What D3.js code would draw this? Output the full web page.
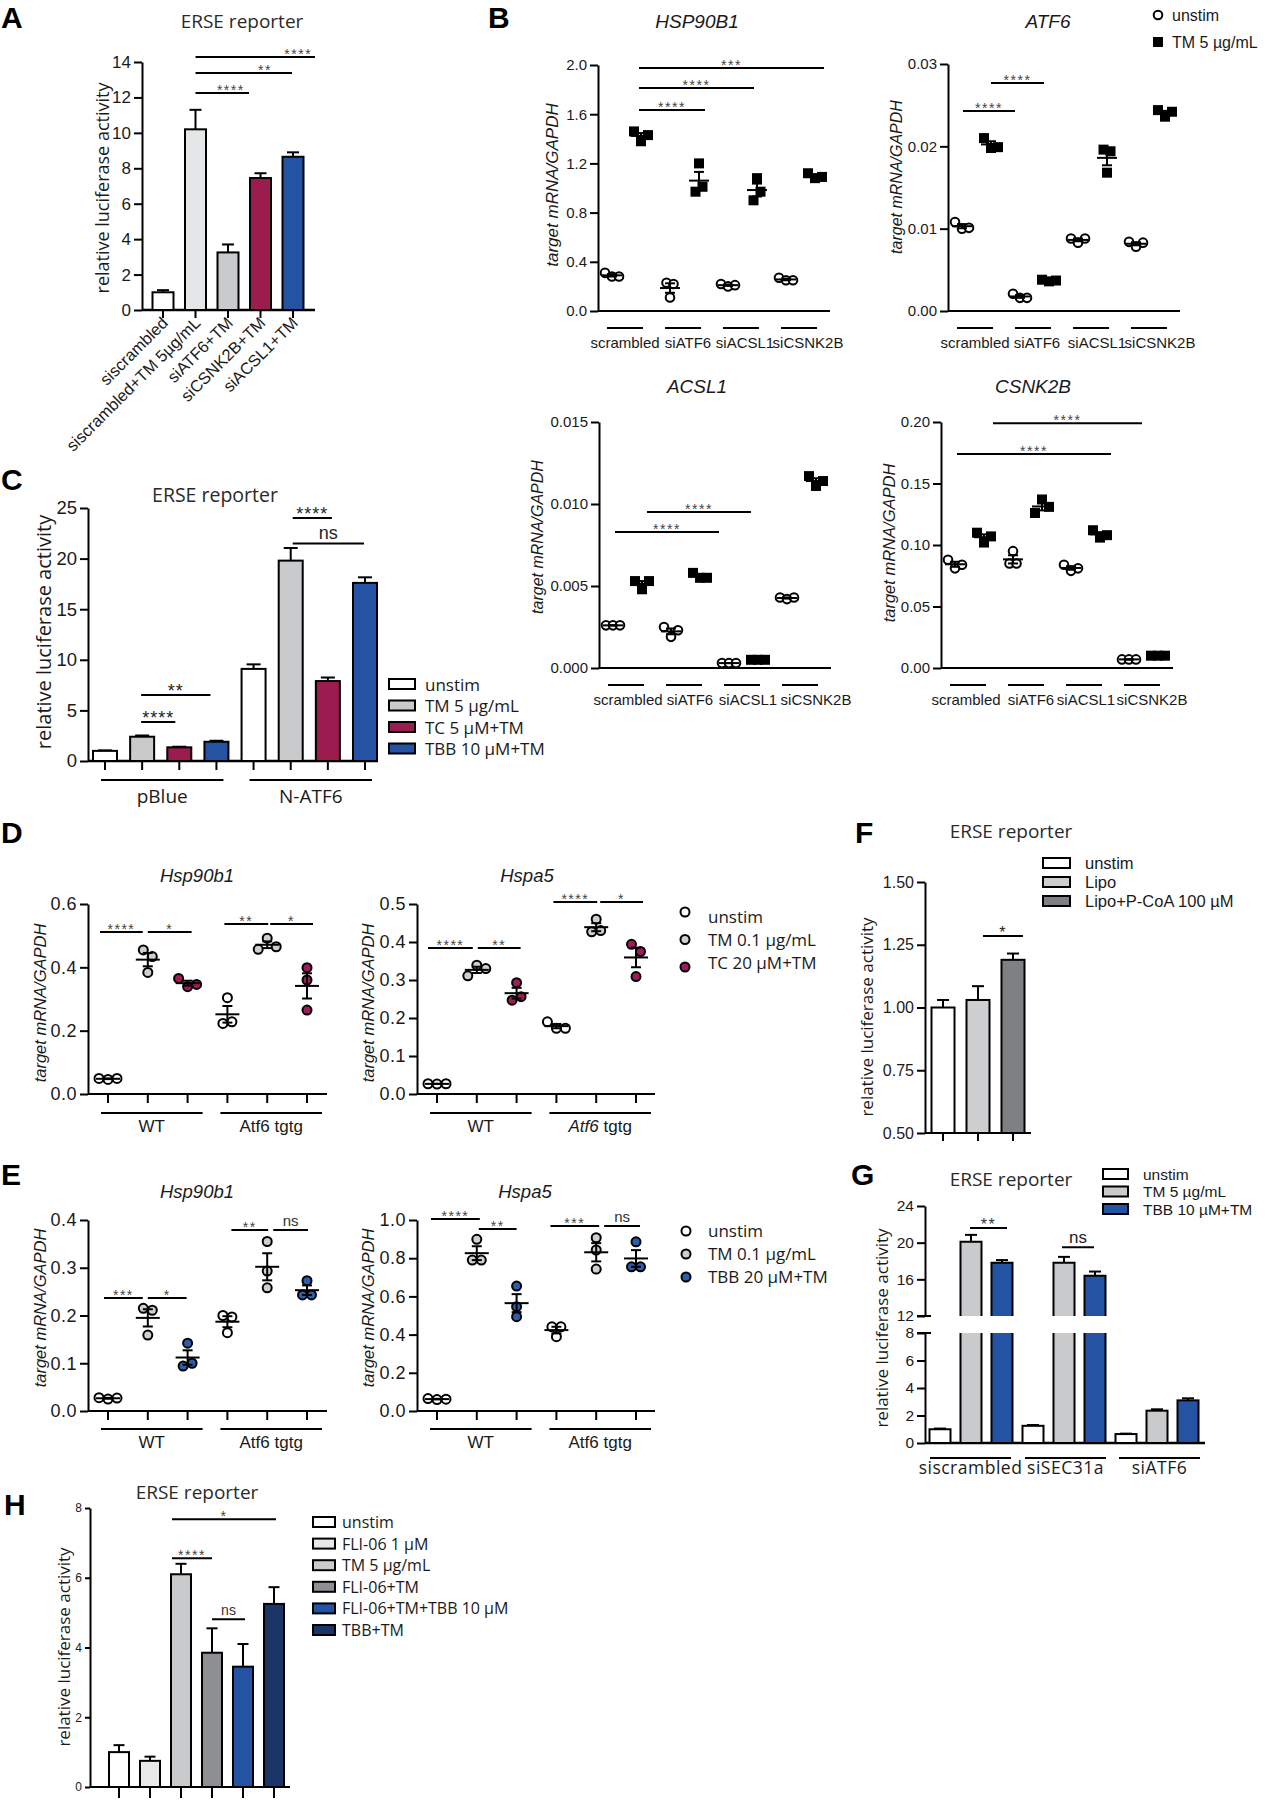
<!DOCTYPE html>
<html>
<head>
<meta charset="utf-8">
<script src="https://cdn.jsdelivr.net/npm/d3@7"></script>
<style>
html,body{margin:0;padding:0;background:#fff;}
svg{display:block;}
</style>
</head>
<body>
<script>
// ===================== DATA =====================
// Panel A – ERSE reporter
const aCategories = ["siscrambled", "siscrambled+TM 5µg/mL", "siATF6+TM", "siCSNK2B+TM", "siACSL1+TM"];
const aValues = [1.0, 10.2, 3.25, 7.45, 8.65];
const aErrors = [0.12, 1.1, 0.45, 0.27, 0.25];
const aTicks = [0, 2, 4, 6, 8, 10, 12, 14];

// Panel B – qPCR replicates, groups [scrambled, siATF6, siACSL1, siCSNK2B]
const bGroups = ["scrambled", "siATF6", "siACSL1", "siCSNK2B"];
const bSeries = ["unstim", "TM 5 µg/mL"];
const hsp90b1Unstim = [[0.31, 0.28, 0.28], [0.11, 0.23, 0.22], [0.22, 0.20, 0.21], [0.27, 0.25, 0.25]];
const hsp90b1TM = [[1.46, 1.38, 1.43], [1.20, 0.97, 1.01], [1.08, 0.90, 0.97], [1.12, 1.08, 1.09]];
const atf6Unstim = [[0.0108, 0.0100, 0.0101], [0.0021, 0.0016, 0.0016], [0.0088, 0.0083, 0.0088], [0.0084, 0.0078, 0.0083]];
const atf6TM = [[0.0210, 0.0198, 0.0199], [0.0038, 0.0036, 0.0037], [0.0196, 0.0168, 0.0194], [0.0244, 0.0236, 0.0242]];
const acsl1Unstim = [[0.0026, 0.0026, 0.0026], [0.0025, 0.0019, 0.0023], [0.0003, 0.0003, 0.0003], [0.0043, 0.0042, 0.0043]];
const acsl1TM = [[0.0053, 0.0048, 0.0053], [0.0058, 0.0055, 0.0055], [0.0005, 0.0005, 0.0005], [0.0117, 0.0111, 0.0114]];
const csnk2bUnstim = [[0.088, 0.081, 0.084], [0.095, 0.085, 0.085], [0.084, 0.079, 0.081], [0.007, 0.007, 0.007]];
const csnk2bTM = [[0.110, 0.102, 0.107], [0.126, 0.137, 0.131], [0.112, 0.106, 0.108], [0.010, 0.010, 0.010]];

// Panel C
const cGroups = ["pBlue", "N-ATF6"];
const cSeries = ["unstim", "TM 5 µg/mL", "TC 5 µM+TM", "TBB 10 µM+TM"];
const cValues = [[1.0, 2.4, 1.35, 1.9], [9.1, 19.8, 7.9, 17.6]];
const cErrors = [[0.05, 0.12, 0.06, 0.1], [0.45, 1.25, 0.35, 0.55]];
const cTicks = [0, 5, 10, 15, 20, 25];

// Panel D – groups [WT, Atf6 tgtg]
const dGroups = ["WT", "Atf6 tgtg"];
const dSeries = ["unstim", "TM 0.1 µg/mL", "TC 20 µM+TM"];
const dHsp90b1Unstim = [[0.049, 0.046, 0.049], [0.304, 0.223, 0.228]];
const dHsp90b1TM = [[0.455, 0.434, 0.384], [0.457, 0.492, 0.465]];
const dHsp90b1TC = [[0.365, 0.339, 0.346], [0.399, 0.360, 0.265]];
const dHspa5Unstim = [[0.027, 0.026, 0.027], [0.190, 0.173, 0.173]];
const dHspa5TM = [[0.311, 0.339, 0.330], [0.427, 0.460, 0.430]];
const dHspa5TC = [[0.293, 0.247, 0.256], [0.394, 0.375, 0.309]];

// Panel E
const eSeries = ["unstim", "TM 0.1 µg/mL", "TBB 20 µM+TM"];
const eHsp90b1Unstim = [[0.028, 0.025, 0.027], [0.200, 0.197, 0.164]];
const eHsp90b1TM = [[0.215, 0.211, 0.159], [0.355, 0.293, 0.258]];
const eHsp90b1TBB = [[0.142, 0.094, 0.100], [0.273, 0.243, 0.243]];
const eHspa5Unstim = [[0.065, 0.060, 0.062], [0.441, 0.441, 0.389]];
const eHspa5TM = [[0.899, 0.790, 0.790], [0.907, 0.843, 0.743]];
const eHspa5TBB = [[0.654, 0.546, 0.494], [0.886, 0.755, 0.755]];

// Panel F
const fCategories = ["unstim", "Lipo", "Lipo+P-CoA 100 µM"];
const fValues = [1.0, 1.03, 1.19];
const fErrors = [0.03, 0.055, 0.025];
const fTicks = [0.5, 0.75, 1.0, 1.25, 1.5];

// Panel G
const gGroups = ["siscrambled", "siSEC31a", "siATF6"];
const gSeries = ["unstim", "TM 5 µg/mL", "TBB 10 µM+TM"];
const gValues = [[1.0, 20.1, 17.8], [1.25, 17.8, 16.4], [0.65, 2.35, 3.1]];
const gErrors = [[0.05, 0.75, 0.3], [0.06, 0.65, 0.45], [0.03, 0.1, 0.15]];
const gTicksLow = [0, 2, 4, 6, 8];
const gTicksHigh = [12, 16, 20, 24];

// Panel H
const hCategories = ["unstim", "FLI-06 1 µM", "TM 5 µg/mL", "FLI-06+TM", "FLI-06+TM+TBB 10 µM", "TBB+TM"];
const hValues = [1.0, 0.75, 6.1, 3.85, 3.45, 5.25];
const hErrors = [0.2, 0.12, 0.3, 0.7, 0.65, 0.48];
const hTicks = [0, 2, 4, 6, 8];

// ===================== STYLE =====================
const FA = '"Liberation Sans", Arial, Helvetica, sans-serif';
const FO = '"Open Sans", "Liberation Sans", Arial, sans-serif';
const INK = "#1a1a1a";
const WHITE = "#ffffff", LGRAY = "#c9cacc", XLGRAY = "#e4e6e7", DGRAY = "#8d8f92",
      MAROON = "#9c1c50", BLUE = "#2453a3", NAVY = "#1b3567";
const aFills = [WHITE, XLGRAY, LGRAY, MAROON, BLUE];
const cFills = [WHITE, LGRAY, MAROON, BLUE];
const fFills = [WHITE, "#cdcecf", "#7e8083"];
const gFills = [WHITE, LGRAY, BLUE];
const hFills = [WHITE, "#e8e8e8", LGRAY, DGRAY, BLUE, NAVY];

const svg = d3.select("body").append("svg").attr("width", 1265).attr("height", 1800);

// ===================== HELPERS =====================
function T(g, x, y, s, o = {}) {
  const t = g.append("text").attr("x", x).attr("y", y)
    .attr("font-family", o.ff || FA).attr("font-size", o.fs || 16)
    .attr("fill", o.fill || INK).attr("text-anchor", o.anchor || "start");
  if (Array.isArray(s)) {
    s.forEach(([str, it]) => { const ts = t.append("tspan").text(str); if (it) ts.attr("font-style", "italic"); });
  } else t.text(s);
  if (o.italic) t.attr("font-style", "italic");
  if (o.bold) t.attr("font-weight", "bold");
  if (o.ls != null) t.attr("letter-spacing", o.ls);
  if (o.db) t.attr("dominant-baseline", o.db);
  if (o.rot) t.attr("transform", `rotate(${o.rot},${x},${y})`);
  return t;
}
function L(g, x1, y1, x2, y2, sw = 2, col = "#000") {
  return g.append("line").attr("x1", x1).attr("y1", y1).attr("x2", x2).attr("y2", y2)
    .attr("stroke", col).attr("stroke-width", sw);
}
function yAxis(g, y, x, ticks, fmt, o = {}) {
  const ts = o.ts ?? 8;
  const ax = d3.axisLeft(y).tickValues(ticks).tickSize(ts).tickSizeOuter(0).tickPadding(o.pad ?? 3)
    .tickFormat(typeof fmt === "function" ? fmt : d3.format(fmt));
  const a = g.append("g").attr("transform", `translate(${x},0)`).call(ax);
  a.attr("font-family", null).attr("font-size", null);
  a.select(".domain").attr("stroke", "#000").attr("stroke-width", o.sw || 2);
  a.selectAll(".tick line").attr("stroke", "#000").attr("stroke-width", o.sw || 2);
  a.selectAll(".tick text").attr("font-family", o.ff || FA).attr("font-size", o.fs || 16)
    .attr("fill", INK).attr("letter-spacing", o.ls ?? null);
  return a;
}
function sig(g, x1, x2, yy, t, o = {}) {
  L(g, x1, yy, x2, yy, o.sw || 2);
  const star = /^\*+$/.test(t);
  const fs = o.fs || 14;
  const tx = x1 + (x2 - x1) * (o.frac ?? 0.5);
  T(g, tx, star ? yy + 2 + (o.dy || 0) : yy - 4 + (o.dy || 0), t,
    { fs, anchor: "middle", fill: o.fill || (star ? "#444" : "#333"), ls: star ? (o.ls ?? 1.5) : null, ff: FA });
}
function drawBars(g, xs, y, vals, errs, fills, bw, capW, base) {
  const y0 = y(base ?? y.domain()[0]);
  vals.forEach((v, i) => {
    const cx = xs[i];
    if (errs[i] > 0) {
      L(g, cx, y(v), cx, y(v + errs[i]), 2);
      L(g, cx - capW / 2, y(v + errs[i]), cx + capW / 2, y(v + errs[i]), 2);
    }
    g.append("rect").attr("x", cx - bw / 2).attr("y", y(v)).attr("width", bw).attr("height", y0 - y(v))
      .attr("fill", fills[i]).attr("stroke", "#000").attr("stroke-width", 2);
  });
}
function jitter(vals, y, thr, step) {
  const ys = vals.map(y);
  const order = d3.range(vals.length).sort((a, b) => ys[a] - ys[b]);
  const clusters = []; let cur = [order[0]];
  for (let k = 1; k < order.length; k++) {
    if (ys[order[k]] - ys[order[k - 1]] < thr) cur.push(order[k]);
    else { clusters.push(cur); cur = [order[k]]; }
  }
  clusters.push(cur);
  const dx = new Array(vals.length).fill(0);
  clusters.forEach(c => { c.sort((a, b) => a - b); c.forEach((idx, j) => dx[idx] = (j - (c.length - 1) / 2) * step); });
  return dx;
}
function drawScatter(g, P, groups, series, styles) {
  const y = d3.scaleLinear().domain([0, P.max]).range([P.bottom, P.top]);
  const nS = series.length;
  const slots = d3.range(groups.length * nS);
  const x = d3.scalePoint().domain(slots).range([P.ax + P.s0, P.ax + P.s1]);
  yAxis(g, y, P.ax, P.ticks, P.fmt, { fs: P.tfs, ts: 8, ls: P.tls });
  L(g, P.ax, P.bottom, P.end, P.bottom, 2);
  if (P.xticks) slots.forEach(s => L(g, x(s), P.bottom, x(s), P.bottom + 9, 2));
  groups.forEach((name, gi) => {
    const xa = x(gi * nS) + P.u0, xb = x(gi * nS + nS - 1) + P.u1;
    L(g, xa, P.bottom + P.uy, xb, P.bottom + P.uy, 2);
    T(g, (xa + xb) / 2 + (P.labOff ? P.labOff[gi] : 0), P.bottom + P.ly, P.labels ? P.labels[gi] : name,
      { fs: P.gfs, anchor: "middle", ls: P.gls });
  });
  series.forEach((sd, si) => {
    const st = styles[si];
    sd.forEach((vals, gi) => {
      const cx = x(gi * nS + si);
      const dx = jitter(vals, y, st.thr, st.step);
      vals.forEach((v, k) => {
        if (st.shape === "square") {
          g.append("rect").attr("x", cx + dx[k] - st.size / 2).attr("y", y(v) - st.size / 2)
            .attr("width", st.size).attr("height", st.size).attr("fill", st.fill);
        } else {
          g.append("circle").attr("cx", cx + dx[k]).attr("cy", y(v)).attr("r", st.r)
            .attr("fill", st.fill).attr("stroke", "#000").attr("stroke-width", 2);
        }
      });
      const m = d3.mean(vals), se = d3.deviation(vals) / Math.sqrt(vals.length);
      L(g, cx - P.mw / 2, y(m), cx + P.mw / 2, y(m), 2);
      L(g, cx, y(m - se), cx, y(m + se), 2);
      L(g, cx - P.cap / 2, y(m - se), cx + P.cap / 2, y(m - se), 2);
      L(g, cx - P.cap / 2, y(m + se), cx + P.cap / 2, y(m + se), 2);
    });
  });
  return { x, y };
}
function boxLegend(g, items, fills, x, y0, dy, w, h, tx, fs, ff) {
  items.forEach((it, i) => {
    const cy = y0 + i * dy;
    g.append("rect").attr("x", x).attr("y", cy - h / 2).attr("width", w).attr("height", h)
      .attr("fill", fills[i]).attr("stroke", "#000").attr("stroke-width", 2);
    T(g, tx, cy, it, { fs, ff: ff || FO, db: "central" });
  });
}
function dotLegend(g, items, fills, cx, cy0, dy, tx, ty0, tdy, fs) {
  items.forEach((it, i) => {
    g.append("circle").attr("cx", cx).attr("cy", cy0 + i * dy).attr("r", 4.5)
      .attr("fill", fills[i]).attr("stroke", "#000").attr("stroke-width", 2);
    T(g, tx, ty0 + i * tdy, it, { fs, ff: FO });
  });
}
function letter(x, y, s) { T(svg, x, y, s, { fs: 30, bold: true, ff: FA, fill: "#000" }); }

// ===================== PANEL A =====================
{
  const g = svg.append("g");
  letter(1, 28, "A");
  const y = d3.scaleLinear().domain([0, 14]).range([310, 62]);
  const x = d3.scalePoint().domain(aCategories).range([163, 293]);
  yAxis(g, y, 142, aTicks, "d", { fs: 17, ts: 8 });
  L(g, 142, 310, 315, 310, 2.5);
  aCategories.forEach(c => L(g, x(c), 310, x(c), 318, 2));
  drawBars(g, aCategories.map(x), y, aValues, aErrors, aFills, 21, 12);
  aCategories.forEach(c => T(g, x(c) + 6, 324, c, { fs: 16.5, anchor: "end", rot: -45 }));
  sig(g, x(aCategories[1]), x(aCategories[2]) + 21, y(12.25), "****", { frac: 0.66 });
  sig(g, x(aCategories[1]), x(aCategories[4]) - 1, y(13.38), "**", { frac: 0.72 });
  sig(g, x(aCategories[1]), x(aCategories[4]) + 22, y(14.28), "****", { frac: 0.86 });
  T(g, 242, 28, "ERSE reporter", { fs: 19, anchor: "middle", ff: FO, fill: "#2a2a2a" });
  T(g, 102, 188, "relative luciferase activity", { fs: 18, anchor: "middle", rot: -90, db: "central", ff: FO });
}

// ===================== PANEL B =====================
{
  letter(488, 28, "B");
  const bStyles = [
    { shape: "circle", fill: "#fff", r: 4.3, thr: 9, step: 7 },
    { shape: "square", fill: "#000", size: 10, thr: 10, step: 7 }
  ];
  const common = { s0: 14, s1: 217, u0: -5, u1: 2, uy: 17, ly: 37, gfs: 15, tfs: 15, tls: 0, mw: 20, cap: 10 };
  const panels = [
    { title: "HSP90B1", data: [hsp90b1Unstim, hsp90b1TM], ax: 598, top: 65, bottom: 311, max: 2.0,
      ticks: [0, 0.4, 0.8, 1.2, 1.6, 2.0], fmt: ".1f", tx: 697, ty: 28, lx: 552, ly2: 185, lfs: 17, labOff: [0, 5, 4, 9],
      sigs: [[1, -2, 3, 6, 1.634, "****"], [1, -2, 5, -3, 1.813, "****"], [1, -2, 7, 9, 1.976, "***"]] },
    { title: "ATF6", data: [atf6Unstim, atf6TM], ax: 948, top: 64, bottom: 311, max: 0.03,
      ticks: [0, 0.01, 0.02, 0.03], fmt: ".2f", tx: 1048, ty: 28, lx: 896, ly2: 177, lfs: 16, labOff: [0, 4, 6, 11],
      sigs: [[0, 1, 2, -5, 0.0243, "****"], [1, 0, 3, -5, 0.0277, "****"]] },
    { title: "ACSL1", data: [acsl1Unstim, acsl1TM], ax: 599, top: 422, bottom: 668, max: 0.015,
      ticks: [0, 0.005, 0.01, 0.015], fmt: ".3f", tx: 697, ty: 393, lx: 537, ly2: 537, lfs: 16, labOff: [2, 6, 6, 16],
      sigs: [[0, 2, 4, -10, 0.00829, "****"], [1, 5, 5, -7, 0.00951, "****"]] },
    { title: "CSNK2B", data: [csnk2bUnstim, csnk2bTM], ax: 941, top: 422, bottom: 668, max: 0.20,
      ticks: [0, 0.05, 0.10, 0.15, 0.20], fmt: ".2f", tx: 1033, ty: 393, lx: 889, ly2: 543, lfs: 16.5, labOff: [-2, 5, 2, 10],
      sigs: [[0, 2, 5, 11, 0.174, "****"], [1, 9, 6, 13, 0.199, "****"]] }
  ];
  panels.forEach(p => {
    const g = svg.append("g");
    const P = Object.assign({}, common, p, { end: p.ax + 232 });
    const { x, y } = drawScatter(g, P, bGroups, p.data, bStyles);
    p.sigs.forEach(([a, da, b, db, v, t]) => sig(g, x(a) + da, x(b) + db, y(v), t));
    T(g, p.tx, p.ty, p.title, { fs: 19, anchor: "middle", italic: true });
    T(g, p.lx, p.ly2, "target mRNA/GAPDH", { fs: p.lfs, anchor: "middle", rot: -90, db: "central", italic: true });
  });
  const lg = svg.append("g");
  lg.append("circle").attr("cx", 1158).attr("cy", 15).attr("r", 4.3).attr("fill", "#fff").attr("stroke", "#000").attr("stroke-width", 2);
  lg.append("rect").attr("x", 1153).attr("y", 37).attr("width", 10).attr("height", 10).attr("fill", "#000");
  T(lg, 1172, 21, bSeries[0], { fs: 16 });
  T(lg, 1172, 48, bSeries[1], { fs: 16 });
}

// ===================== PANEL C =====================
{
  const g = svg.append("g");
  letter(1, 490, "C");
  const y = d3.scaleLinear().domain([0, 25]).range([761, 508]);
  const slots = d3.range(cGroups.length * cSeries.length);
  const x = d3.scalePoint().domain(slots).range([105, 365]);
  yAxis(g, y, 88, cTicks, "d", { fs: 18.5, ts: 8 });
  L(g, 88, 761, 378, 761, 2.5);
  slots.forEach(s => L(g, x(s), 761, x(s), 770, 2));
  drawBars(g, slots.map(x), y, cValues.flat(), cErrors.flat(), slots.map(s => cFills[s % cSeries.length]), 24, 14);
  cGroups.forEach((name, gi) => {
    const xa = x(gi * 4) - 4, xb = x(gi * 4 + 3) + 7;
    L(g, xa, 780, xb, 780, 2);
    T(g, (xa + xb) / 2, 803, name, { fs: 19, anchor: "middle", ff: FO });
  });
  sig(g, x(1) - 1, x(2) - 4, y(3.85), "****", { fs: 18, fill: "#222", ls: 1 });
  sig(g, x(1) - 1, x(3) - 6, y(6.52), "**", { fs: 18, fill: "#222", ls: 1 });
  sig(g, x(5) + 2, x(6) + 4, y(24.0), "****", { fs: 18, fill: "#222", ls: 1 });
  sig(g, x(5) + 2, x(7) - 1, y(21.5), "ns", { fs: 18, fill: "#222" });
  T(g, 215, 502, "ERSE reporter", { fs: 19.5, anchor: "middle", ff: FO, fill: "#2a2a2a" });
  T(g, 43, 632, "relative luciferase activity", { fs: 20, anchor: "middle", rot: -90, db: "central", ff: FO });
  boxLegend(g, cSeries, cFills, 389, 684, 21.5, 26, 10, 425, 17);
}

// ===================== PANEL D =====================
{
  letter(1, 843, "D");
  const dStyles = [
    { shape: "circle", fill: "#fff", r: 4.5, thr: 9, step: 9 },
    { shape: "circle", fill: "#cfcfcf", r: 4.5, thr: 9, step: 9 },
    { shape: "circle", fill: "#a31a5b", r: 4.5, thr: 9, step: 9 }
  ];
  const common = { s0: 20, s1: 219, u0: -7, u1: 15, uy: 19, ly: 38, xticks: true, gfs: 17, tfs: 18, tls: 0.5, mw: 24, cap: 10 };
  {
    const g = svg.append("g");
    const P = Object.assign({}, common, { ax: 88, end: 327, top: 904, bottom: 1094, max: 0.6, ticks: [0, 0.2, 0.4, 0.6], fmt: ".1f" });
    const { x, y } = drawScatter(g, P, dGroups, [dHsp90b1Unstim, dHsp90b1TM, dHsp90b1TC], dStyles);
    sig(g, x(0) - 8, x(1) - 5, y(0.5116), "****");
    sig(g, x(1), x(2) + 4, y(0.5116), "*");
    sig(g, x(3) - 3, x(4) + 1, y(0.537), "**");
    sig(g, x(4) + 3, x(5) + 6, y(0.537), "*");
    T(g, 197, 882, "Hsp90b1", { fs: 18.5, anchor: "middle", italic: true });
    T(g, 40, 1003, "target mRNA/GAPDH", { fs: 16.5, anchor: "middle", rot: -90, db: "central", italic: true });
  }
  {
    const g = svg.append("g");
    const P = Object.assign({}, common, { ax: 417, end: 655, top: 904, bottom: 1094, max: 0.5, ticks: [0, 0.1, 0.2, 0.3, 0.4, 0.5], fmt: ".1f",
      labels: [[["WT", false]], [["Atf6", true], [" tgtg", false]]] });
    const { x, y } = drawScatter(g, P, dGroups, [dHspa5Unstim, dHspa5TM, dHspa5TC], dStyles);
    sig(g, x(0) - 9, x(1) - 4, y(0.384), "****");
    sig(g, x(1) + 1, x(2) + 4, y(0.384), "**");
    sig(g, x(3) - 3, x(4) + 1, y(0.505), "****");
    sig(g, x(4) + 4, x(5) + 7, y(0.505), "*");
    T(g, 527, 882, "Hspa5", { fs: 18.5, anchor: "middle", italic: true });
    T(g, 368, 1003, "target mRNA/GAPDH", { fs: 16.5, anchor: "middle", rot: -90, db: "central", italic: true });
    dotLegend(g, dSeries, dStyles.map(s => s.fill), 685, 912, 27.5, 708, 923, 23, 17);
  }
}

// ===================== PANEL E =====================
{
  letter(1, 1185, "E");
  const eStyles = [
    { shape: "circle", fill: "#fff", r: 4.5, thr: 9, step: 9 },
    { shape: "circle", fill: "#cfcfcf", r: 4.5, thr: 9, step: 9 },
    { shape: "circle", fill: "#2a5fae", r: 4.5, thr: 9, step: 9 }
  ];
  const common = { s0: 20, s1: 219, u0: -7, u1: 15, uy: 18, ly: 37, xticks: true, gfs: 17, tfs: 18, tls: 0.5, mw: 24, cap: 10 };
  {
    const g = svg.append("g");
    const P = Object.assign({}, common, { ax: 88, end: 327, top: 1220, bottom: 1411, max: 0.4, ticks: [0, 0.1, 0.2, 0.3, 0.4], fmt: ".1f" });
    const { x, y } = drawScatter(g, P, dGroups, [eHsp90b1Unstim, eHsp90b1TM, eHsp90b1TBB], eStyles);
    sig(g, x(0) - 4, x(1) - 5, y(0.2367), "***");
    sig(g, x(1), x(2) - 1, y(0.2367), "*");
    sig(g, x(3) + 4, x(4) + 1, y(0.379), "**");
    sig(g, x(4) + 6, x(5) + 1, y(0.379), "ns", { fs: 15 });
    T(g, 197, 1198, "Hsp90b1", { fs: 18.5, anchor: "middle", italic: true });
    T(g, 40, 1308, "target mRNA/GAPDH", { fs: 16.5, anchor: "middle", rot: -90, db: "central", italic: true });
  }
  {
    const g = svg.append("g");
    const P = Object.assign({}, common, { ax: 417, end: 655, top: 1220, bottom: 1411, max: 1.0, ticks: [0, 0.2, 0.4, 0.6, 0.8, 1.0], fmt: ".1f" });
    const { x, y } = drawScatter(g, P, dGroups, [eHspa5Unstim, eHspa5TM, eHspa5TBB], eStyles);
    sig(g, x(0) - 6, x(1) + 3, y(1.005), "****");
    sig(g, x(1) + 2, x(2), y(0.953), "**");
    sig(g, x(3) - 6, x(4) + 3, y(0.969), "***");
    sig(g, x(4) + 8, x(5) + 4, y(0.969), "ns", { fs: 15 });
    T(g, 525, 1198, "Hspa5", { fs: 18.5, anchor: "middle", italic: true });
    T(g, 368, 1308, "target mRNA/GAPDH", { fs: 16.5, anchor: "middle", rot: -90, db: "central", italic: true });
    dotLegend(g, eSeries, eStyles.map(s => s.fill), 686, 1231, 23, 708, 1237, 23, 17);
  }
}

// ===================== PANEL F =====================
{
  const g = svg.append("g");
  letter(855, 843, "F");
  const y = d3.scaleLinear().domain([0.5, 1.5]).range([1133, 882]);
  const x = d3.scalePoint().domain(fCategories).range([943, 1013]);
  yAxis(g, y, 925, fTicks, ".2f", { fs: 16, ts: 8 });
  L(g, 925, 1133, 1031, 1133, 2);
  fCategories.forEach(c => L(g, x(c), 1133, x(c), 1141, 2));
  drawBars(g, fCategories.map(x), y, fValues, fErrors, fFills, 23, 12);
  sig(g, x(fCategories[1]) + 5, x(fCategories[2]) + 10, y(1.285), "*", { fs: 16, fill: "#222" });
  T(g, 1011, 838, "ERSE reporter", { fs: 19, anchor: "middle", ff: FO, fill: "#2a2a2a" });
  T(g, 866, 1017, "relative luciferase activity", { fs: 17, anchor: "middle", rot: -90, db: "central", ff: FO });
  boxLegend(g, fCategories, fFills, 1043, 863, 19, 27, 10, 1085, 16.5, FA);
}

// ===================== PANEL G =====================
{
  const g = svg.append("g");
  letter(851, 1185, "G");
  const yLow = d3.scaleLinear().domain([0, 8]).range([1443, 1333]);
  const yHigh = d3.scaleLinear().domain([12, 24]).range([1316, 1206]);
  const slots = d3.range(gGroups.length * gSeries.length);
  const x = d3.scalePoint().domain(slots).range([940, 1188]);
  yAxis(g, yLow, 925, gTicksLow, "d", { fs: 15.5, ts: 8 });
  yAxis(g, yHigh, 925, gTicksHigh, "d", { fs: 15.5, ts: 8 });
  L(g, 917, yLow(8), 931, yLow(8), 2);
  L(g, 917, yHigh(12), 931, yHigh(12), 2);
  L(g, 925, 1443, 1205, 1443, 2.5);
  const bw = 21;
  slots.forEach(s => {
    const gi = Math.floor(s / 3), si = s % 3;
    const v = gValues[gi][si], e = gErrors[gi][si], cx = x(s), fill = gFills[si];
    const x0 = cx - bw / 2, x1 = cx + bw / 2;
    const ys = v > 8 ? yHigh : yLow;
    if (e > 0) {
      L(g, cx, ys(v), cx, ys(v + e), 2);
      L(g, cx - 6, ys(v + e), cx + 6, ys(v + e), 2);
    }
    if (v <= 8) {
      g.append("rect").attr("x", x0).attr("y", yLow(v)).attr("width", bw).attr("height", yLow(0) - yLow(v))
        .attr("fill", fill).attr("stroke", "#000").attr("stroke-width", 2);
    } else {
      g.append("rect").attr("x", x0).attr("y", yLow(8)).attr("width", bw).attr("height", yLow(0) - yLow(8)).attr("fill", fill);
      g.append("path").attr("d", `M${x0},${yLow(8)}V${yLow(0)}H${x1}V${yLow(8)}`).attr("fill", "none").attr("stroke", "#000").attr("stroke-width", 2);
      g.append("rect").attr("x", x0).attr("y", yHigh(v)).attr("width", bw).attr("height", yHigh(12) - yHigh(v)).attr("fill", fill);
      g.append("path").attr("d", `M${x0},${yHigh(12)}V${yHigh(v)}H${x1}V${yHigh(12)}`).attr("fill", "none").attr("stroke", "#000").attr("stroke-width", 2);
    }
  });
  const off = [[-10, 9], [-8, 11], [-7, 12]];
  gGroups.forEach((name, gi) => {
    const xa = x(gi * 3) + off[gi][0], xb = x(gi * 3 + 2) + off[gi][1];
    L(g, xa, 1458, xb, 1458, 2);
    T(g, (xa + xb) / 2, 1474, name, { fs: 17.5, anchor: "middle", ff: FO, ls: 0.5 });
  });
  sig(g, x(1) - 1, x(2) + 5, yHigh(21.6), "**", { fs: 16, fill: "#333" });
  sig(g, x(4) - 2, x(5) - 1, yHigh(19.5), "ns", { fs: 17, fill: "#222" });
  T(g, 1011, 1186, "ERSE reporter", { fs: 19, anchor: "middle", ff: FO, fill: "#2a2a2a" });
  T(g, 881, 1328, "relative luciferase activity", { fs: 17, anchor: "middle", rot: -90, db: "central", ff: FO });
  boxLegend(g, gSeries, gFills, 1103, 1174, 17.5, 25, 10, 1143, 15.5, FA);
}

// ===================== PANEL H =====================
{
  const g = svg.append("g");
  letter(4, 1515, "H");
  const y = d3.scaleLinear().domain([0, 8]).range([1787, 1508]);
  const x = d3.scalePoint().domain(hCategories).range([119, 274]);
  yAxis(g, y, 90, hTicks, "d", { fs: 12, ts: 5 });
  L(g, 90, 1787, 290, 1787, 2);
  hCategories.forEach(c => L(g, x(c), 1787, x(c), 1798, 2));
  drawBars(g, hCategories.map(x), y, hValues, hErrors, hFills, 20, 11);
  sig(g, x(hCategories[2]) - 9, x(hCategories[3]), y(6.56), "****");
  sig(g, x(hCategories[3]), x(hCategories[4]) + 2, y(4.81), "ns", { fs: 14 });
  sig(g, x(hCategories[2]) - 9, x(hCategories[5]) + 2, y(7.68), "*");
  T(g, 197, 1499, "ERSE reporter", { fs: 19, anchor: "middle", ff: FO, fill: "#2a2a2a" });
  T(g, 63, 1647, "relative luciferase activity", { fs: 17, anchor: "middle", rot: -90, db: "central", ff: FO });
  boxLegend(g, hCategories, hFills, 313, 1522, 21.6, 22, 10, 342, 16);
}
</script>
</body>
</html>
